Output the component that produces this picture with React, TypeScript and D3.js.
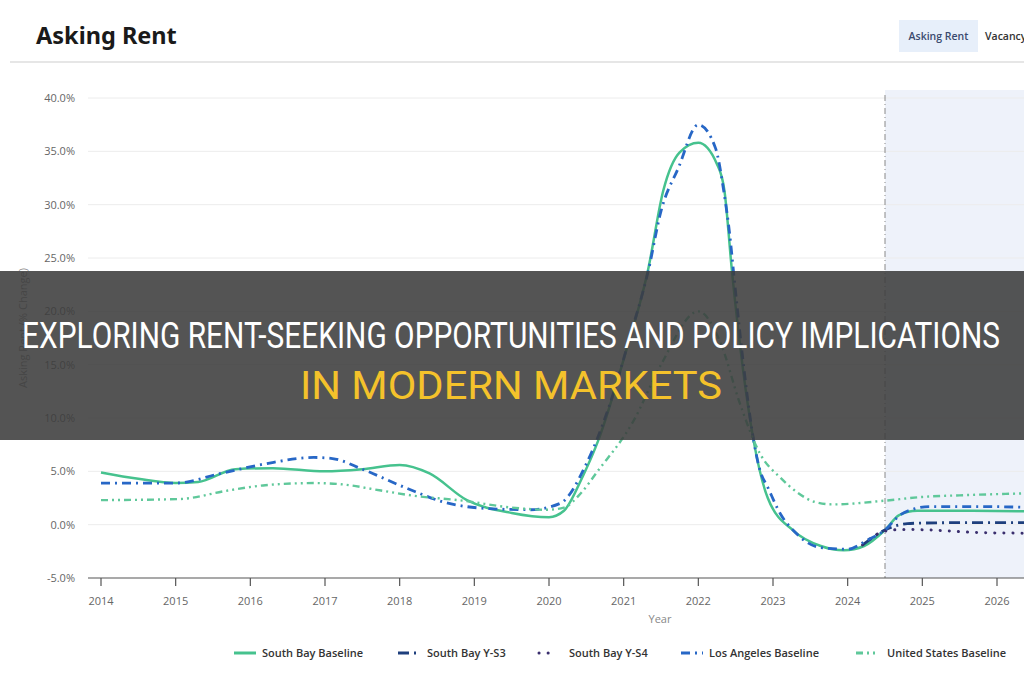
import React from "react";
import * as d3 from "d3";

// ---- data ----
const yearTicks = [2014, 2015, 2016, 2017, 2018, 2019, 2020, 2021, 2022, 2023, 2024, 2025, 2026];
const yTicks = [-5, 0, 5, 10, 15, 20, 25, 30, 35, 40];
const forecastStart = 2024.5;

const southBayBaseline: [number, number][] = [
  [2014, 4.9], [2014.5, 4.3], [2015, 3.9], [2015.3, 4.0], [2015.8, 5.2], [2016.3, 5.3], [2017, 5.0],
  [2017.5, 5.2], [2018, 5.6], [2018.4, 4.8], [2018.9, 2.3], [2019.5, 1.1], [2020, 0.7], [2020.2, 1.3],
  [2020.45, 4.5], [2020.66, 7.9], [2021, 15.5], [2021.33, 24], [2021.53, 31.3], [2021.75, 34.9],
  [2022, 35.8], [2022.25, 33.8], [2022.35, 31.3], [2022.45, 23.8], [2022.74, 7.9], [2022.93, 2.5],
  [2023.28, -0.6], [2023.64, -2.0], [2023.95, -2.4], [2024.22, -2.0], [2024.5, -0.5], [2024.69, 0.9],
  [2024.93, 1.3], [2025.5, 1.3], [2026.5, 1.25],
];
const southBayYS3: [number, number][] = [
  [2024.2, -1.9], [2024.5, -0.5], [2024.8, 0.1], [2025, 0.15], [2025.8, 0.2], [2026.5, 0.2],
];
const southBayYS4: [number, number][] = [
  [2024.2, -1.9], [2024.5, -0.6], [2024.75, -0.45], [2025.1, -0.5], [2025.8, -0.75], [2026.5, -0.8],
];
const losAngelesBaseline: [number, number][] = [
  [2014, 3.9], [2014.5, 3.9], [2015, 3.9], [2015.6, 4.8], [2016.2, 5.7], [2016.85, 6.3], [2017.1, 6.2],
  [2017.5, 5.2], [2018.1, 3.4], [2018.6, 2.1], [2019.2, 1.5], [2019.75, 1.4], [2020.15, 2.0],
  [2020.5, 5.7], [2020.8, 11], [2021.1, 18], [2021.33, 23.8], [2021.5, 29.4], [2021.73, 33.4],
  [2022, 37.5], [2022.23, 35.3], [2022.34, 31.3], [2022.43, 26.6], [2022.47, 23.8], [2022.83, 5],
  [2022.93, 3.5], [2023.1, 1.0], [2023.28, -0.6], [2023.64, -2.15], [2024, -2.3], [2024.25, -1.5],
  [2024.5, -0.5], [2024.7, 0.9], [2024.9, 1.5], [2025.1, 1.7], [2025.8, 1.7], [2026.5, 1.6],
];
const unitedStatesBaseline: [number, number][] = [
  [2014, 2.3], [2015.05, 2.4], [2015.7, 3.2], [2016.2, 3.7], [2016.85, 3.9], [2017.2, 3.8],
  [2017.75, 3.2], [2018.2, 2.7], [2018.85, 2.25], [2019.5, 1.6], [2019.97, 1.4], [2020.2, 1.6],
  [2020.42, 2.9], [2020.65, 5], [2021.13, 9.7], [2021.5, 15], [2022, 20], [2022.3, 17],
  [2022.55, 11.5], [2022.83, 6.6], [2023.1, 4.4], [2023.33, 3.0], [2023.55, 2.15], [2023.8, 1.9],
  [2024.5, 2.25], [2025, 2.6], [2025.5, 2.75], [2026.5, 2.95],
];

const series = [
  { name: "South Bay Baseline", data: southBayBaseline, color: "#46c28e", dash: "", width: 2.5, cap: "butt" },
  { name: "South Bay Y-S3", data: southBayYS3, color: "#1e3f7d", dash: "11,5,2,5", width: 2.8, cap: "butt" },
  { name: "South Bay Y-S4", data: southBayYS4, color: "#3a2f6e", dash: "0.1,9", width: 3, cap: "round" },
  { name: "Los Angeles Baseline", data: losAngelesBaseline, color: "#2767c6", dash: "9,5,2,5", width: 2.8, cap: "butt" },
  { name: "United States Baseline", data: unitedStatesBaseline, color: "#5fc89a", dash: "7,4,2,4,2,4", width: 2.4, cap: "butt" },
];

const legendX = [234, 398, 539, 681, 856];
const legendTextX = [262, 427, 569, 709, 887];

export default function App() {
  const W = 1024, H = 680;
  const x = d3.scaleLinear().domain([2014, 2026]).range([101, 997]);
  const y = d3.scaleLinear().domain([-5, 40]).range([578, 98]);
  const line = d3.line<[number, number]>().x(d => x(d[0])).y(d => y(d[1])).curve(d3.curveMonotoneX);
  const font = "'Open Sans', 'Noto Sans', sans-serif";
  const bannerFont = "Roboto, 'Liberation Sans', sans-serif";
  const fx = x(forecastStart);

  return (
    <svg width={W} height={H} style={{ position: "absolute", left: 0, top: 0, background: "#fff" }}>
      <defs>
        <clipPath id="plot"><rect x={88} y={80} width={W - 88} height={500} /></clipPath>
      </defs>
      <rect x={0} y={0} width={W} height={H} fill="#fff" />
      {/* header */}
      <text x={36} y={44} fontFamily="'Noto Sans', 'Open Sans', sans-serif" fontWeight={700} fontSize={23.5} fill="#1a1a1a">Asking Rent</text>
      <rect x={899} y={20} width={79} height={32} fill="#e7effa" />
      <text x={938.5} y={40} textAnchor="middle" fontFamily={font} fontSize={10.5} fontWeight={600} fill="#3a4a6e">Asking Rent</text>
      <text x={985} y={40} fontFamily={font} fontSize={10.5} fontWeight={600} fill="#333">Vacancy</text>
      <line x1={10} x2={W} y1={62} y2={62} stroke="#e6e6e6" strokeWidth={2} />

      {/* forecast shading */}
      <rect x={fx} y={90} width={W - fx} height={y(-5) - 90} fill="#eef2fa" />
      {/* grid */}
      {yTicks.map(t => (
        <g key={t}>
          {t > -5 && <line x1={88} x2={W} y1={y(t)} y2={y(t)} stroke="#ececec" strokeWidth={1} />}
          <text x={75} y={y(t) + 4} textAnchor="end" fontFamily={font} fontSize={11} fill="#666">{t.toFixed(1)}%</text>
        </g>
      ))}
      <line x1={fx} x2={fx} y1={95} y2={y(-5)} stroke="#888" strokeWidth={1} strokeDasharray="6,3,1,3" />

      {/* series */}
      <g clipPath="url(#plot)">
        {series.map(s => (
          <path key={s.name} d={line(s.data) || ""} fill="none" stroke={s.color} strokeWidth={s.width}
            strokeDasharray={s.dash || undefined} strokeLinecap={s.cap as any} />
        ))}
      </g>

      {/* x axis */}
      <line x1={88} x2={W} y1={y(-5)} y2={y(-5)} stroke="#555" strokeWidth={1.2} />
      {yearTicks.map(t => (
        <g key={t}>
          <line x1={x(t)} x2={x(t)} y1={y(-5)} y2={y(-5) + 8} stroke="#555" strokeWidth={1.2} />
          <text x={x(t)} y={605} textAnchor="middle" fontFamily={font} fontSize={11} fill="#666">{t}</text>
        </g>
      ))}
      <text x={660} y={623} textAnchor="middle" fontFamily={font} fontSize={11} fill="#888">Year</text>
      <text transform={`translate(27,${(y(-5) + y(40)) / 2 - 10}) rotate(-90)`} textAnchor="middle" fontFamily={font} fontSize={11} fill="#888">Asking Rent (% Change)</text>

      {/* legend */}
      {series.map((s, i) => (
        <g key={s.name}>
          <line x1={legendX[i]} x2={legendX[i] + (i === 2 ? 14 : 22)} y1={653} y2={653} stroke={s.color} strokeWidth={3}
            strokeDasharray={s.dash || undefined} strokeLinecap={s.cap as any} />
          <text x={legendTextX[i]} y={657} fontFamily={font} fontSize={11} fontWeight={600} fill="#333">{s.name}</text>
        </g>
      ))}

      {/* banner overlay */}
      <rect x={0} y={271} width={W} height={169} fill="#3c3c3c" opacity={0.88} />
      <text x={511} y={348} textAnchor="middle" fontFamily={bannerFont}
        fontSize={36} fill="#ffffff" textLength={978} lengthAdjust="spacingAndGlyphs">EXPLORING RENT-SEEKING OPPORTUNITIES AND POLICY IMPLICATIONS</text>
      <text x={511} y={399} textAnchor="middle" fontFamily={bannerFont}
        fontSize={38} fill="#f4c22b" textLength={422} lengthAdjust="spacingAndGlyphs">IN MODERN MARKETS</text>
    </svg>
  );
}
